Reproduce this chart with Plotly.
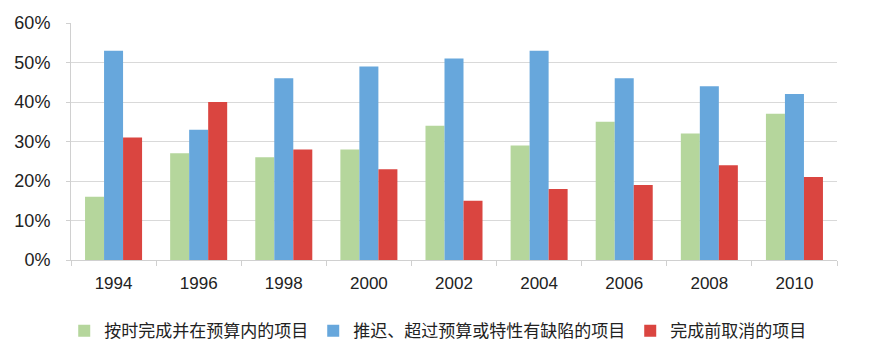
import plotly.graph_objects as go

years = ["1994", "1996", "1998", "2000", "2002", "2004", "2006", "2008", "2010"]
on_time = [16, 27, 26, 28, 34, 29, 35, 32, 37]
delayed = [53, 33, 46, 49, 51, 53, 46, 44, 42]
cancelled = [31, 40, 28, 23, 15, 18, 19, 24, 21]
names = ["按时完成并在预算内的项目", "推迟、超过预算或特性有缺陷的项目", "完成前取消的项目"]
colors = ["#b5d69c", "#67a7dc", "#da4540"]

fig = go.Figure()
for vals, nm, c in zip([on_time, delayed, cancelled], names, colors):
    fig.add_trace(go.Bar(x=years, y=[v / 100 for v in vals], name=nm, marker_color=c,
                         marker_line_width=0))

font = "Liberation Sans, Arial, Noto Sans CJK SC, sans-serif"
fig.update_layout(
    width=877, height=359,
    margin=dict(l=63, r=48, t=15, b=107, autoexpand=False),
    paper_bgcolor="white", plot_bgcolor="white",
    barmode="group", bargap=0.33, bargroupgap=0,
    font=dict(family=font, size=16, color="#222"),
    legend=dict(orientation="h", xref="container", x=0.49, xanchor="center",
                yref="container", y=0.1, yanchor="middle",
                font=dict(family="Noto Sans CJK SC, sans-serif", size=17, color="#222"),
                itemwidth=30, traceorder="normal"),
    showlegend=True,
)
fig.update_yaxes(range=[0, 0.6], dtick=0.1, tickformat=".0%", gridcolor="#d9d9d9",
                 showline=True, linecolor="#d0d0d0", ticks="outside", ticklen=4,
                 tickcolor="#d0d0d0", tickfont=dict(size=18), zeroline=False,
                 automargin=False, ticklabelstandoff=12)
fig.update_xaxes(showline=True, linecolor="#d0d0d0", ticks="outside", ticklen=5,
                 tickcolor="#d0d0d0", tickson="boundaries", tickfont=dict(size=17),
                 automargin=False, ticklabelstandoff=8)
fig.write_html("out.html")
